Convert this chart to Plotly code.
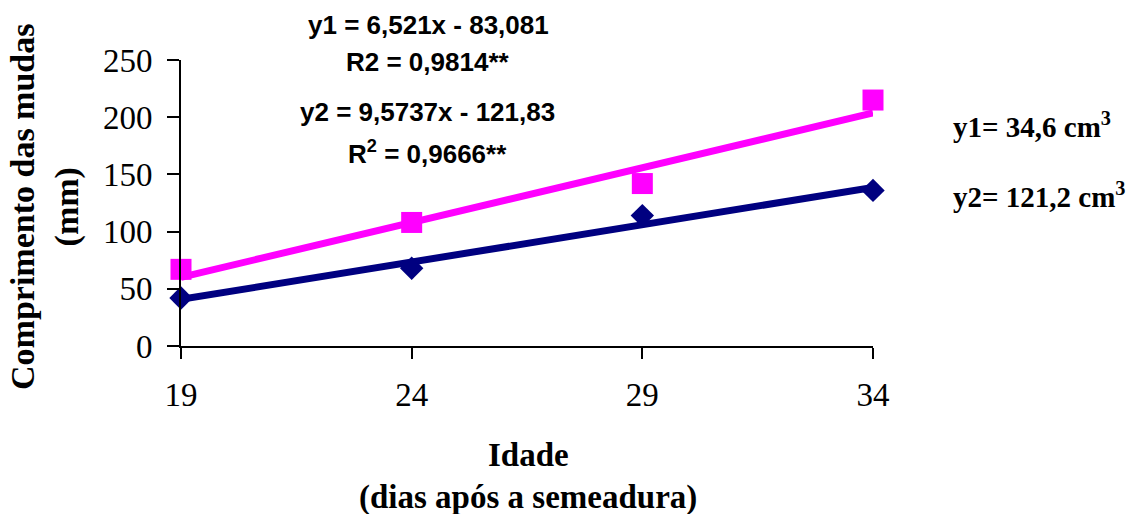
import plotly.graph_objects as go

# Data
idade = [19, 24, 29, 34]
serie_y1 = [42, 68, 114, 136]      # navy diamonds (34,6 cm3)
serie_y2 = [67, 108, 142, 215]     # magenta squares (121,2 cm3)
coef_y1 = (6.521, -83.081)
coef_y2 = (9.5737, -121.83)
x_ticks = [19, 24, 29, 34]
y_ticks = [0, 50, 100, 150, 200, 250]

NAVY = "#000080"
PINK = "#FF00FF"
SERIF = "Liberation Serif, Times New Roman, serif"
SANS = "Liberation Sans, Arial, sans-serif"

def trend(coef, xs):
    return [coef[0] * x + coef[1] for x in xs]

xs_line = [idade[0], idade[-1]]

fig = go.Figure()
fig.add_trace(go.Scatter(x=xs_line, y=trend(coef_y1, xs_line), mode="lines",
                         line=dict(color=NAVY, width=7), cliponaxis=False, showlegend=False))
fig.add_trace(go.Scatter(x=xs_line, y=trend(coef_y2, xs_line), mode="lines",
                         line=dict(color=PINK, width=7), cliponaxis=False, showlegend=False))
fig.add_trace(go.Scatter(x=idade, y=serie_y1, mode="markers",
                         marker=dict(symbol="diamond", size=18, color=NAVY),
                         cliponaxis=False, showlegend=False))
fig.add_trace(go.Scatter(x=idade, y=serie_y2, mode="markers",
                         marker=dict(symbol="square", size=21, color=PINK),
                         cliponaxis=False, showlegend=False))

OFF = 8  # page body margin
W, H = 1136 - OFF, 514 - OFF
L = 181 - OFF
T = 60 - OFF
R = W - (873 - OFF)
B = H - (346 - OFF)
pw, ph = W - L - R, H - T - B

def px(p):
    return (p - OFF - L) / pw

def py(p):
    return (H - B - (p - OFF)) / ph

fig.update_layout(
    width=W, height=H,
    margin=dict(l=L, r=R, t=T, b=B),
    paper_bgcolor="white", plot_bgcolor="white",
    xaxis=dict(range=[19, 34], tickvals=x_ticks, ticktext=[str(v) for v in x_ticks],
               showgrid=False, zeroline=False, showline=True, linecolor="black", linewidth=2,
               ticks="outside", ticklen=11, tickwidth=2, tickcolor="black",
               ticklabelstandoff=7,
               tickfont=dict(family=SERIF, size=33, color="black")),
    yaxis=dict(range=[0, 250], tickvals=y_ticks,
               showgrid=False, zeroline=False, showline=True, linecolor="black", linewidth=2,
               ticks="outside", ticklen=12, tickwidth=2, tickcolor="black",
               ticklabelstandoff=8,
               tickfont=dict(family=SERIF, size=33, color="black")),
)

ann = []
# equations
eq_font = dict(family=SANS, size=26, color="black")
ann.append(dict(text="<b>y1 = 6,521x - 83,081</b>", x=px(428), y=py(25)))
ann.append(dict(text="<b>R2 = 0,9814**</b>", x=px(428), y=py(62)))
ann.append(dict(text="<b>y2 = 9,5737x - 121,83</b>", x=px(427), y=py(112)))
ann.append(dict(text="<b>R<sup>2</sup> = 0,9666**</b>", x=px(427), y=py(152)))
for a in ann:
    a.update(xref="paper", yref="paper", xanchor="center", yanchor="middle",
             showarrow=False, font=eq_font)

rf = dict(family=SERIF, size=29, color="black")
ann.append(dict(text="<b>y1= 34,6 cm<sup>3</sup></b>", x=px(951), y=py(125), xref="paper", yref="paper",
                xanchor="left", yanchor="middle", showarrow=False, font=rf))
ann.append(dict(text="<b>y2= 121,2 cm<sup>3</sup></b>", x=px(951), y=py(195), xref="paper", yref="paper",
                xanchor="left", yanchor="middle", showarrow=False, font=rf))

tf = dict(family=SERIF, size=33, color="black")
ann.append(dict(text="<b>Idade</b>", x=px(528), y=py(455), xref="paper", yref="paper",
                xanchor="center", yanchor="middle", showarrow=False, font=tf))
ann.append(dict(text="<b>(dias após a semeadura)</b>", x=px(528), y=py(497), xref="paper", yref="paper",
                xanchor="center", yanchor="middle", showarrow=False, font=tf))
ann.append(dict(text="<b>Comprimento das mudas</b><br><b>(mm)</b>", x=px(45), y=py(207),
                xref="paper", yref="paper", xanchor="center", yanchor="middle",
                textangle=-90, showarrow=False, font=dict(family=SERIF, size=34, color="black")))

fig.update_layout(annotations=ann)
fig.write_html("out.html")
